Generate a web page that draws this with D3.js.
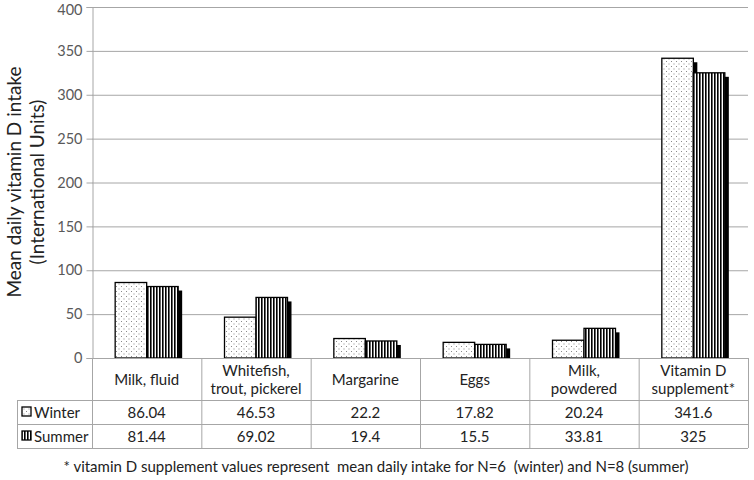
<!DOCTYPE html>
<html><head><meta charset="utf-8">
<script src="https://cdn.jsdelivr.net/npm/d3@7"></script>
<style>body{margin:0;background:#fff}svg{display:block;font-family:Lato,"Open Sans",sans-serif}</style>
</head><body>
<svg id="c" width="754" height="480"></svg>
<script>
const categories = ["Milk, fluid", "Whitefish, trout, pickerel", "Margarine", "Eggs", "Milk, powdered", "Vitamin D supplement*"];
const categoryLines = [["Milk, fluid"], ["Whitefish,", "trout, pickerel"], ["Margarine"], ["Eggs"], ["Milk,", "powdered"], ["Vitamin D", "supplement*"]];
const winter = [86.04, 46.53, 22.2, 17.82, 20.24, 341.6];
const summer = [81.44, 69.02, 19.4, 15.5, 33.81, 325];
const winterLabels = ["86.04", "46.53", "22.2", "17.82", "20.24", "341.6"];
const summerLabels = ["81.44", "69.02", "19.4", "15.5", "33.81", "325"];
const yTicks = [0, 50, 100, 150, 200, 250, 300, 350, 400];
const seriesNames = ["Winter", "Summer"];

const svg = d3.select("#c");
const L = 92, R = 748, T = 7, B = 358;
const y = d3.scaleLinear().domain([0, 400]).range([B, T]);
const x = d3.scaleBand().domain(categories).range([L, R]).padding(0);
const barW = 31.5;

const defs = svg.append("defs");
const dots = defs.append("pattern").attr("id", "dots").attr("patternUnits", "userSpaceOnUse")
  .attr("width", 5).attr("height", 5);
dots.append("rect").attr("width", 5).attr("height", 5).attr("fill", "#fff");
dots.append("rect").attr("x", 1).attr("y", 1).attr("width", 1).attr("height", 1).attr("fill", "#8a8a8a");
dots.append("rect").attr("x", 3.5).attr("y", 3.5).attr("width", 1).attr("height", 1).attr("fill", "#8a8a8a");
const stripes = defs.append("pattern").attr("id", "stripes").attr("patternUnits", "userSpaceOnUse")
  .attr("width", 3).attr("height", 3);
stripes.append("rect").attr("width", 3).attr("height", 3).attr("fill", "#fff");
stripes.append("rect").attr("width", 1.6).attr("height", 3).attr("fill", "#000");
defs.append("clipPath").attr("id", "plotclip").append("rect")
  .attr("x", L).attr("y", 0).attr("width", R - L + 10).attr("height", B);

// gridlines
svg.append("g").selectAll("line").data(yTicks.filter(d => d > 0)).join("line")
  .attr("x1", L).attr("x2", R).attr("y1", d => y(d) + 0.5).attr("y2", d => y(d) + 0.5)
  .attr("stroke", "#a6a6a6").attr("stroke-width", 1);

// y axis
const yAxis = d3.axisLeft(y).tickValues(yTicks).tickSize(6).tickPadding(4);
const ga = svg.append("g").attr("transform", `translate(${L + 0.5},0)`).call(yAxis);
ga.select(".domain").attr("stroke", "#a6a6a6");
ga.selectAll(".tick line").attr("stroke", "#a6a6a6");
ga.selectAll(".tick text").attr("fill", "#595959").attr("font-size", 14.5).attr("font-family", "Lato, sans-serif")
  .attr("y", d => d === 400 ? 2.5 : 0);

// y title
const yt = svg.append("text").attr("transform", "translate(0,182) rotate(-90)")
  .attr("text-anchor", "middle").attr("fill", "#222").attr("font-size", 19);
yt.append("tspan").attr("x", 0).attr("y", 21).text("Mean daily vitamin D intake");
yt.append("tspan").attr("x", 0).attr("y", 44).text("(International Units)");

// bars
const bars = svg.append("g").attr("clip-path", "url(#plotclip)");
const series = [
  {vals: winter, off: -barW, fill: "url(#dots)"},
  {vals: summer, off: 0, fill: "url(#stripes)"}
];
series.forEach(s => {
  bars.append("g").selectAll("rect").data(categories).join("rect")
    .attr("x", (c) => x(c) + x.bandwidth() / 2 + s.off + 4)
    .attr("y", (c, i) => y(s.vals[i]) + 4)
    .attr("width", barW).attr("height", (c, i) => B - y(s.vals[i]))
    .attr("fill", "#000");
});
series.forEach(s => {
  bars.append("g").selectAll("rect").data(categories).join("rect")
    .attr("x", (c) => x(c) + x.bandwidth() / 2 + s.off)
    .attr("y", (c, i) => y(s.vals[i]))
    .attr("width", barW).attr("height", (c, i) => B - y(s.vals[i]))
    .attr("fill", s.fill).attr("stroke", "#000").attr("stroke-width", 1.3);
});

// data table
const tableLeft = 17;
const tb = svg.append("g").attr("stroke", "#a6a6a6").attr("stroke-width", 1);
tb.append("line").attr("x1", L).attr("x2", R).attr("y1", B + 0.5).attr("y2", B + 0.5);
[400, 424, 448].forEach(yy => tb.append("line").attr("x1", tableLeft).attr("x2", R).attr("y1", yy + 0.5).attr("y2", yy + 0.5));
categories.forEach(c => tb.append("line").attr("x1", x(c) + 0.5).attr("x2", x(c) + 0.5).attr("y1", B).attr("y2", 448));
tb.append("line").attr("x1", R + 0.5).attr("x2", R + 0.5).attr("y1", B).attr("y2", 448);
tb.append("line").attr("x1", tableLeft + 0.5).attr("x2", tableLeft + 0.5).attr("y1", 400).attr("y2", 448);

const txt = svg.append("g").attr("fill", "#222").attr("font-size", 15).attr("text-anchor", "middle");
categories.forEach((c, i) => {
  const lines = categoryLines[i];
  const cx = x(c) + x.bandwidth() / 2;
  const y0 = lines.length === 1 ? 385 : 376;
  lines.forEach((ln, k) => txt.append("text").attr("x", cx).attr("y", y0 + k * 18).text(ln));
  txt.append("text").attr("x", cx).attr("y", 418).text(winterLabels[i]);
  txt.append("text").attr("x", cx).attr("y", 442).text(summerLabels[i]);
});

// legend keys in table
const keyFills = ["url(#dots)", "url(#stripes)"];
seriesNames.forEach((n, i) => {
  const cy = 412 + i * 24;
  svg.append("rect").attr("x", 22).attr("y", cy - 5).attr("width", 9).attr("height", 9)
    .attr("fill", keyFills[i]).attr("stroke", "#000").attr("stroke-width", 1.3);
  svg.append("text").attr("x", 34).attr("y", cy + 5.5).attr("font-size", 15).attr("fill", "#222").text(n);
});

// footnote
svg.append("text").attr("x", 376).attr("y", 472).attr("text-anchor", "middle")
  .attr("font-size", 15).attr("fill", "#222").attr("xml:space", "preserve")
  .text("* vitamin D supplement values represent  mean daily intake for N=6  (winter) and N=8 (summer)");
</script>
</body></html>
